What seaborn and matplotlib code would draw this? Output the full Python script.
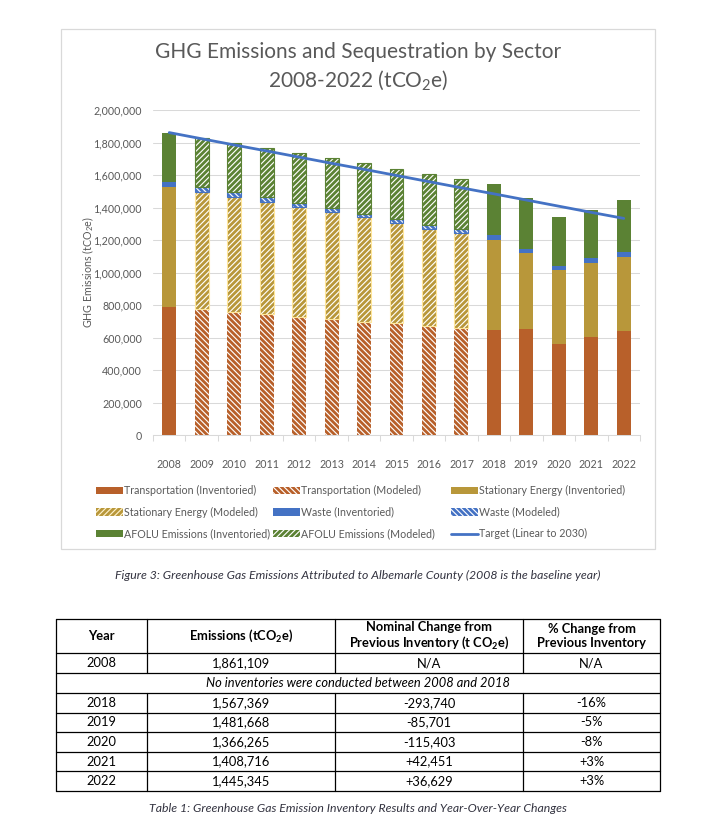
import numpy as np
import matplotlib
matplotlib.use("Agg")
import matplotlib.pyplot as plt
import seaborn as sns
from matplotlib.patches import Patch, Rectangle
from matplotlib.lines import Line2D
from matplotlib.ticker import FuncFormatter

# Chart data (tCO2e)
years = ["2008", "2009", "2010", "2011", "2012", "2013", "2014", "2015",
         "2016", "2017", "2018", "2019", "2020", "2021", "2022"]
modeled_years = ["2009", "2010", "2011", "2012", "2013", "2014", "2015", "2016", "2017"]

transportation = [785000, 773000, 757000, 743000, 728000, 714000, 697000, 687000,
                  673000, 658000, 646000, 654000, 562000, 601000, 642000]
stationary = [740000, 720000, 710000, 693000, 673000, 656000, 642000, 616000,
              597000, 583000, 556000, 464000, 453000, 460000, 455000]
waste = [34000, 33000, 28000, 27000, 28000, 27000, 23000, 24000,
         24000, 25000, 27000, 27000, 27000, 26000, 27000]
afolu = [302000, 304000, 304000, 305000, 308000, 308000, 310000, 310000,
         312000, 307000, 314000, 311000, 302000, 298000, 324000]
target = [1861000, 1823000, 1785000, 1748000, 1710000, 1672000, 1635000, 1597000,
          1559000, 1521000, 1484000, 1446000, 1408000, 1370000, 1333000]

# Table data
tbl_header = ["Year", "Emissions (tCO$_2$e)",
              "Nominal Change from\nPrevious Inventory (t CO$_2$e)",
              "% Change from\nPrevious Inventory"]
tbl_years = ["2008", "2018", "2019", "2020", "2021", "2022"]
tbl_emissions = ["1,861,109", "1,567,369", "1,481,668", "1,366,265", "1,408,716", "1,445,345"]
tbl_nominal = ["N/A", "-293,740", "-85,701", "-115,403", "+42,451", "+36,629"]
tbl_pct = ["N/A", "-16%", "-5%", "-8%", "+3%", "+3%"]
tbl_note = "No inventories were conducted between 2008 and 2018"

fig_caption = "Figure 3: Greenhouse Gas Emissions Attributed to Albemarle County (2008 is the baseline year)"
tbl_caption = "Table 1: Greenhouse Gas Emission Inventory Results and Year-Over-Year Changes"

# Style
sns.set_theme(style="white")
plt.rcParams["font.family"] = ["Lato", "DejaVu Sans"]
plt.rcParams["mathtext.fontset"] = "custom"
plt.rcParams["mathtext.rm"] = "Lato"
plt.rcParams["mathtext.it"] = "Lato:italic"
plt.rcParams["mathtext.bf"] = "Lato:bold"
plt.rcParams["mathtext.default"] = "regular"
plt.rcParams["hatch.linewidth"] = 2.0

c_trans = "#B8602A"
c_stat = "#B8973A"
c_stat_edge = "#FFE699"
c_waste = "#4472C4"
c_afolu = "#5B8234"
c_text = "#595959"
c_grid = "#D9D9D9"
fs = 7.7
h_fwd = "//////"
h_back = "\\\\\\\\\\\\"

W, H = 703, 827
fig = plt.figure(figsize=(W / 100, H / 100), dpi=100)

# page layer for frame, captions and table (pixel coordinates)
page = fig.add_axes([0, 0, 1, 1], zorder=-1)
page.set_xlim(0, W)
page.set_ylim(H, 0)
page.axis("off")
page.add_patch(Rectangle((61, 29), 594, 520, facecolor="white", edgecolor=c_grid, lw=0.9))

ax = fig.add_axes([153 / W, 1 - 435 / H, 487 / W, 325 / H])
ax.patch.set_alpha(0)

pos = np.arange(len(years))
is_mod = np.array([y in modeled_years for y in years])
inv = ~is_mod
bw = 0.43

layers = [
    (transportation, c_trans, h_back, None),
    (stationary, c_stat, h_fwd, c_stat_edge),
    (waste, c_waste, h_back, c_waste),
    (afolu, c_afolu, h_fwd, c_afolu),
]
bottom = np.zeros(len(years))
for vals, col, hatch, edge in layers:
    vals = np.array(vals, dtype=float)
    ax.bar(pos[inv], vals[inv], bw, bottom=bottom[inv], color=col, lw=0, zorder=2)
    ax.bar(pos[is_mod], vals[is_mod], bw, bottom=bottom[is_mod], facecolor="white",
           edgecolor=col, hatch=hatch, lw=0, zorder=2)
    if edge:
        ax.bar(pos[is_mod], vals[is_mod], bw, bottom=bottom[is_mod], facecolor="none",
               edgecolor=edge, lw=0.8, zorder=3)
    bottom += vals

sns.lineplot(x=pos, y=target, color=c_waste, lw=2.0, ax=ax, zorder=5)

ax.set_xlim(-0.5, 14.5)
ax.set_ylim(0, 2000000)
ax.set_xticks(pos, years)
ax.set_xticks(np.arange(-0.5, 15, 1), minor=True)
ax.set_yticks(np.arange(0, 2000001, 200000))
ax.yaxis.set_major_formatter(FuncFormatter(lambda v, _: f"{v:,.0f}"))
ax.grid(axis="y", color=c_grid, lw=0.75)
ax.set_axisbelow(True)
for s in ["top", "right", "left"]:
    ax.spines[s].set_visible(False)
ax.spines["bottom"].set_color(c_grid)
ax.spines["bottom"].set_linewidth(0.75)
ax.tick_params(axis="x", which="major", length=0, pad=17, labelsize=fs, labelcolor=c_text)
ax.tick_params(axis="x", which="minor", length=4, width=0.75, color=c_grid, bottom=True)
ax.tick_params(axis="y", length=0, pad=8, labelsize=fs, labelcolor=c_text)
ax.set_xlabel("")
ax.set_ylabel("")

fig.text(88 / W, 1 - 272 / H, "GHG Emissions (tCO$_2$e)", rotation=90,
         ha="center", va="center", fontsize=fs, color=c_text)
fig.text(358 / W, 1 - 52 / H, "GHG Emissions and Sequestration by Sector",
         ha="center", va="center", fontsize=15, color=c_text)
fig.text(358 / W, 1 - 80 / H, "2008-2022 (tCO$_2$e)",
         ha="center", va="center", fontsize=15, color=c_text)

# legend: three equal-width columns like the reference
h_tinv = Patch(facecolor=c_trans, lw=0)
h_tmod = Patch(facecolor="white", edgecolor=c_trans, hatch=h_back, lw=0)
h_sinv = Patch(facecolor=c_stat, lw=0)
h_smod = Patch(facecolor="#FFF2CC", edgecolor=c_stat, hatch=h_fwd, lw=0)
h_winv = Patch(facecolor=c_waste, lw=0)
h_wmod = Patch(facecolor="white", edgecolor=c_waste, hatch=h_back, lw=0)
h_ainv = Patch(facecolor=c_afolu, lw=0)
h_amod = Patch(facecolor="white", edgecolor=c_afolu, hatch=h_fwd, lw=0)
h_tgt = Line2D([], [], color=c_waste, lw=2.0)
leg_cols = [
    ([h_tinv, h_smod, h_ainv],
     ["Transportation (Inventoried)", "Stationary Energy (Modeled)", "AFOLU Emissions (Inventoried)"]),
    ([h_tmod, h_winv, h_amod],
     ["Transportation (Modeled)", "Waste (Inventoried)", "AFOLU Emissions (Modeled)"]),
    ([h_sinv, h_wmod, h_tgt],
     ["Stationary Energy (Inventoried)", "Waste (Modeled)", "Target (Linear to 2030)"]),
]
for (hs, ls), x0 in zip(leg_cols, [96, 273, 451]):
    leg = fig.legend(hs, ls, loc="upper left", bbox_to_anchor=(x0 / W, 1 - 485 / H),
                     frameon=False, fontsize=fs, handlelength=2.5, handleheight=0.7,
                     handletextpad=0.15, labelspacing=1.0, borderpad=0, borderaxespad=0)
    for t in leg.get_texts():
        t.set_color(c_text)

# captions
page.text(358, 575, fig_caption, ha="center", va="center", fontsize=8.8,
          style="italic", color="#333340")
page.text(358, 808, tbl_caption, ha="center", va="center", fontsize=8.8,
          style="italic", color="#333340")

# table
cols_x = [56, 147, 335, 523, 660]
rows_y = [619, 653, 673, 693, 713, 732, 752, 771, 791]
lw_t = 0.9
for y in rows_y:
    page.plot([cols_x[0], cols_x[-1]], [y, y], color="black", lw=lw_t)
for x in [cols_x[0], cols_x[-1]]:
    page.plot([x, x], [rows_y[0], rows_y[-1]], color="black", lw=lw_t)
for x in cols_x[1:-1]:
    page.plot([x, x], [rows_y[0], rows_y[2]], color="black", lw=lw_t)
    page.plot([x, x], [rows_y[3], rows_y[-1]], color="black", lw=lw_t)

tfs = 9.3
centers = [(cols_x[i] + cols_x[i + 1]) / 2 for i in range(4)]
for cx, txt in zip(centers, tbl_header):
    page.text(cx, (rows_y[0] + rows_y[1]) / 2, txt, ha="center", va="center",
              fontsize=tfs, fontweight="bold", color="black", linespacing=1.2)

body_rows = [rows_y[1]] + rows_y[3:-1]
for i, ytop in enumerate(body_rows):
    ybot = rows_y[rows_y.index(ytop) + 1]
    yc = (ytop + ybot) / 2
    for cx, txt in zip(centers, [tbl_years[i], tbl_emissions[i], tbl_nominal[i], tbl_pct[i]]):
        page.text(cx, yc, txt, ha="center", va="center", fontsize=tfs, color="black")
page.text((cols_x[0] + cols_x[-1]) / 2, (rows_y[2] + rows_y[3]) / 2, tbl_note,
          ha="center", va="center", fontsize=tfs, style="italic", color="black")

fig.savefig("out.png", dpi=100)
